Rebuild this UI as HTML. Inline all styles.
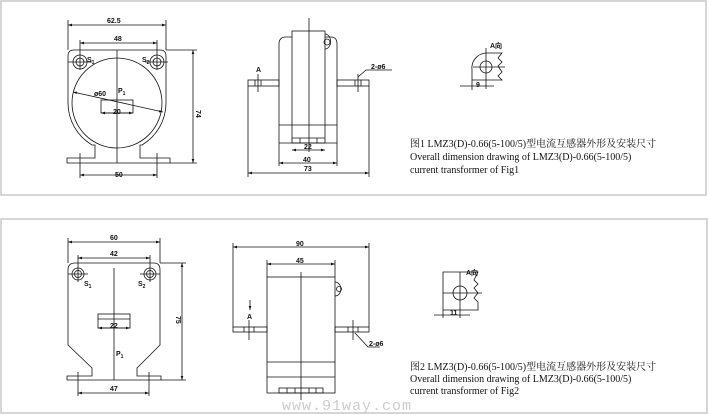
<!DOCTYPE html>
<html><head><meta charset="utf-8"><style>
html,body{margin:0;padding:0;background:#fff;}
svg{display:block;}
.t{font-family:"Liberation Sans",Arial,sans-serif;font-size:7px;font-weight:bold;fill:#111;}
.c{font-family:"Liberation Serif","Noto Serif CJK SC","Noto Sans CJK SC",serif;font-size:10px;fill:#111;}
</style></head><body>
<svg width="709" height="415" viewBox="0 0 709 415" xmlns="http://www.w3.org/2000/svg">
<defs>
<marker id="a" viewBox="0 0 6 6" refX="6" refY="3" markerWidth="5" markerHeight="5" orient="auto-start-reverse"><path d="M0,1 L6,3 L0,5z" fill="#111"/></marker>
</defs>
<rect x="1" y="1" width="705" height="194" fill="none" stroke="#c8c8c8" stroke-width="1.5"/>
<rect x="1" y="219" width="706" height="194" fill="none" stroke="#c8c8c8" stroke-width="1.5"/>

<g stroke="#111" stroke-width="0.8" fill="none">
<!-- FIG1 front -->
<path d="M74,50 L160,50 Q166,50 166,56 L166,103 A49,49 0 0 1 142,145 L140,145 L140,158 L170,158 L170,163 L67,163 L67,158 L95,158 L95,145 L92,145 A49,49 0 0 1 68,103 L68,56 Q68,50 74,50Z"/>
<circle cx="117" cy="103" r="45"/>
<circle cx="80" cy="62" r="7"/><circle cx="80" cy="62" r="4"/>
<circle cx="157" cy="62" r="7"/><circle cx="157" cy="62" r="4"/>
<line x1="68" y1="62" x2="92" y2="62"/><line x1="145" y1="62" x2="168" y2="62"/>
<line x1="117" y1="50" x2="117" y2="163"/>
<rect x="101" y="100" width="32" height="13"/>
<line x1="68" y1="25" x2="166" y2="25" marker-start="url(#a)" marker-end="url(#a)"/>
<line x1="68" y1="20" x2="68" y2="50"/><line x1="166" y1="20" x2="166" y2="50"/>
<line x1="80" y1="43" x2="157" y2="43" marker-start="url(#a)" marker-end="url(#a)"/>
<line x1="80" y1="40" x2="80" y2="70"/><line x1="157" y1="40" x2="157" y2="70"/>
<line x1="73" y1="92" x2="163" y2="112" marker-start="url(#a)" marker-end="url(#a)"/>
<line x1="101" y1="113" x2="133" y2="113" marker-start="url(#a)" marker-end="url(#a)"/>
<line x1="193" y1="50" x2="193" y2="163" marker-start="url(#a)" marker-end="url(#a)"/>
<line x1="166" y1="50" x2="197" y2="50"/><line x1="170" y1="163" x2="197" y2="163"/>
<line x1="80" y1="175" x2="157" y2="175" marker-start="url(#a)" marker-end="url(#a)"/>
<line x1="80" y1="153" x2="80" y2="178"/><line x1="157" y1="153" x2="157" y2="178"/>

<!-- FIG1 side -->
<path d="M279,143 L279,44 Q279,37 286,37 L292,37"/>
<path d="M325,37 L331,37 Q337,37 337,44 L337,143 L279,143"/>
<rect x="292" y="31" width="33" height="112"/>
<line x1="279" y1="125" x2="337" y2="125"/>
<line x1="292" y1="138" x2="325" y2="138"/>
<line x1="300" y1="138" x2="300" y2="143"/><line x1="317" y1="138" x2="317" y2="143"/>
<path d="M325,34 a3,4 0 0 1 0,15" /><circle cx="327" cy="42" r="3"/>
<rect x="248" y="80" width="31" height="6"/><rect x="337" y="80" width="32" height="6"/>
<line x1="258" y1="74" x2="258" y2="92"/><line x1="255" y1="80" x2="255" y2="86"/><line x1="261" y1="80" x2="261" y2="86"/>
<line x1="358" y1="74" x2="358" y2="92"/><line x1="355" y1="80" x2="355" y2="86"/><line x1="361" y1="80" x2="361" y2="86"/>
<polyline points="358,77 366,70 392,70"/>
<line x1="309" y1="18" x2="309" y2="152"/>
<line x1="248" y1="86" x2="248" y2="177"/><line x1="369" y1="86" x2="369" y2="177"/>
<line x1="279" y1="143" x2="279" y2="166"/><line x1="337" y1="143" x2="337" y2="166"/>
<line x1="292" y1="150" x2="325" y2="150" marker-start="url(#a)" marker-end="url(#a)"/>
<line x1="279" y1="163" x2="337" y2="163" marker-start="url(#a)" marker-end="url(#a)"/>
<line x1="248" y1="173" x2="369" y2="173" marker-start="url(#a)" marker-end="url(#a)"/>

<!-- FIG1 A view -->
<path d="M502,53 L486,53 A15,15 0 0 0 472,70 L472,80 L502,80 L498,76 L502,72 L498,66 L502,62 L498,58Z"/>
<circle cx="486" cy="67" r="6"/>
<line x1="473" y1="67" x2="505" y2="67"/><line x1="486" y1="48" x2="486" y2="89"/>
<line x1="460" y1="86" x2="494" y2="86"/><line x1="472" y1="80" x2="472" y2="90"/>

<!-- FIG2 front -->
<path d="M75,263 L154,263 Q160,263 160,270 L160,345 L137,368 L137,376 L161,376 L161,380 L67,380 L67,376 L92,376 L92,368 L68,345 L68,270 Q68,263 75,263Z"/>
<circle cx="78" cy="274" r="6"/><circle cx="78" cy="274" r="3.5"/>
<circle cx="150" cy="274" r="6"/><circle cx="150" cy="274" r="3.5"/>
<line x1="68" y1="274" x2="88" y2="274"/><line x1="140" y1="274" x2="160" y2="274"/>
<line x1="114" y1="268" x2="114" y2="380"/>
<rect x="98" y="314" width="32" height="14"/><line x1="98" y1="319" x2="130" y2="319"/>
<line x1="98" y1="328" x2="130" y2="328" marker-start="url(#a)" marker-end="url(#a)"/>
<line x1="68" y1="242" x2="160" y2="242" marker-start="url(#a)" marker-end="url(#a)"/>
<line x1="68" y1="238" x2="68" y2="263"/><line x1="160" y1="238" x2="160" y2="263"/>
<line x1="78" y1="258" x2="150" y2="258" marker-start="url(#a)" marker-end="url(#a)"/>
<line x1="78" y1="255" x2="78" y2="282"/><line x1="150" y1="255" x2="150" y2="282"/>
<line x1="182" y1="263" x2="182" y2="380" marker-start="url(#a)" marker-end="url(#a)"/>
<line x1="160" y1="263" x2="186" y2="263"/><line x1="161" y1="380" x2="186" y2="380"/>
<line x1="78" y1="393" x2="149" y2="393" marker-start="url(#a)" marker-end="url(#a)"/>
<line x1="78" y1="372" x2="78" y2="396"/><line x1="149" y1="372" x2="149" y2="396"/>

<!-- FIG2 side -->
<rect x="267" y="277" width="68" height="116"/>
<line x1="267" y1="362" x2="335" y2="362"/><line x1="267" y1="377" x2="335" y2="377"/>
<rect x="279" y="388" width="44" height="5"/>
<line x1="287" y1="388" x2="287" y2="393"/><line x1="295" y1="388" x2="295" y2="393"/><line x1="309" y1="388" x2="309" y2="393"/><line x1="316" y1="388" x2="316" y2="393"/>
<line x1="301" y1="272" x2="301" y2="400"/>
<path d="M335,282 a5,6 0 0 1 0,14"/><circle cx="339" cy="289" r="2.5"/>
<rect x="233" y="327" width="34" height="5"/><rect x="335" y="327" width="34" height="5"/>
<line x1="249" y1="320" x2="249" y2="340"/><line x1="244" y1="327" x2="244" y2="332"/><line x1="254" y1="327" x2="254" y2="332"/>
<line x1="353" y1="320" x2="353" y2="340"/><line x1="348" y1="327" x2="348" y2="332"/><line x1="358" y1="327" x2="358" y2="332"/>
<polyline points="355,333 368,347 380,347"/>
<line x1="250" y1="300" x2="250" y2="310" marker-end="url(#a)"/>
<line x1="233" y1="243" x2="233" y2="327"/><line x1="369" y1="243" x2="369" y2="327"/>
<line x1="233" y1="247" x2="369" y2="247" marker-start="url(#a)" marker-end="url(#a)"/>
<line x1="267" y1="260" x2="267" y2="277"/><line x1="335" y1="260" x2="335" y2="277"/>
<line x1="267" y1="264" x2="335" y2="264" marker-start="url(#a)" marker-end="url(#a)"/>

<!-- FIG2 A view -->
<path d="M478,272 L443,272 L443,310 L478,310 L478,302 L474,298 L478,293 L474,288 L478,284 L474,280Z"/>
<circle cx="460" cy="293" r="7"/>
<line x1="443" y1="293" x2="482" y2="293"/><line x1="460" y1="272" x2="460" y2="318"/>
<line x1="434" y1="315" x2="470" y2="315"/>
<line x1="443" y1="310" x2="443" y2="318"/>
</g>

<g class="t">
<text x="107" y="23">62.5</text>
<text x="114" y="41">48</text>
<text x="87" y="62">S<tspan font-size="5" dy="2">1</tspan></text>
<text x="142" y="62">S<tspan font-size="5" dy="2">2</tspan></text>
<text x="118" y="93">P<tspan font-size="5" dy="2">1</tspan></text>
<text x="94" y="96">ø60</text>
<text x="113" y="114">20</text>
<text x="115" y="177" >50</text>
<text transform="translate(196,110) rotate(90)">74</text>
<text x="256" y="72">A</text>
<text x="371" y="69">2-ø6</text>
<text x="304" y="149">22</text>
<text x="303" y="162">40</text>
<text x="304" y="171">73</text>
<text x="490" y="48">A向</text>
<text x="476" y="87">9</text>

<text x="110" y="240">60</text>
<text x="110" y="256">42</text>
<text x="84" y="286">S<tspan font-size="5" dy="2">1</tspan></text>
<text x="138" y="286">S<tspan font-size="5" dy="2">2</tspan></text>
<text x="116" y="356">P<tspan font-size="5" dy="2">1</tspan></text>
<text x="110" y="328">22</text>
<text x="110" y="391">47</text>
<text transform="translate(176,316) rotate(90)">75</text>
<text x="296" y="246">90</text>
<text x="296" y="263">45</text>
<text x="247" y="319">A</text>
<text x="369" y="346">2-ø6</text>
<text x="466" y="275">A向</text>
<text x="450" y="315">11</text>
</g>

<g class="c">
<text x="410" y="147">图1 LMZ3(D)-0.66(5-100/5)型电流互感器外形及安装尺寸</text>
<text x="410" y="160">Overall dimension drawing of LMZ3(D)-0.66(5-100/5)</text>
<text x="410" y="173">current transformer of Fig1</text>
<text x="410" y="370">图2 LMZ3(D)-0.66(5-100/5)型电流互感器外形及安装尺寸</text>
<text x="410" y="382">Overall dimension drawing of LMZ3(D)-0.66(5-100/5)</text>
<text x="410" y="394">current transformer of Fig2</text>
</g>
<text x="282" y="410" font-family="Liberation Mono, monospace" font-size="15" fill="#ccc" letter-spacing="1">www.91way.com</text>
</svg>
</body></html>
